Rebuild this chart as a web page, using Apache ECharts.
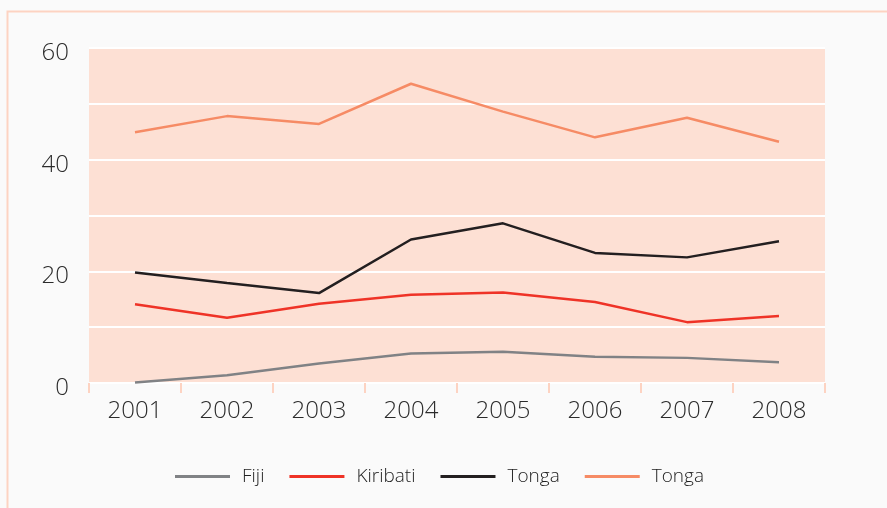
<!DOCTYPE html>
<html><head><meta charset="utf-8">
<script src="https://cdn.jsdelivr.net/npm/echarts@6/dist/echarts.min.js"></script>
<style>html,body{margin:0;padding:0;background:#fafafa;}#c{width:887px;height:508px;}</style>
</head><body><div id="c"></div>
<script>
const years = ['2001','2002','2003','2004','2005','2006','2007','2008'];
const seriesNames = ['Fiji','Kiribati','Tonga','Tonga '];
const fiji = [0.1, 1.4, 3.5, 5.3, 5.6, 4.7, 4.5, 3.7];
const kiribati = [14.1, 11.7, 14.2, 15.8, 16.2, 14.5, 10.9, 12.0];
const tongaDark = [19.8, 17.9, 16.1, 25.7, 28.6, 23.3, 22.5, 25.4];
const tongaLight = [44.9, 47.8, 46.4, 53.6, 48.6, 44.0, 47.5, 43.2];
const colors = ['#808285', '#ef3327', '#231f20', '#f68b65'];
const values = [fiji, kiribati, tongaDark, tongaLight];

const chart = echarts.init(document.getElementById('c'), null, {renderer:'canvas'});
const font = '"Open Sans", "Noto Sans", sans-serif';
chart.setOption({
  backgroundColor: '#fafafa',
  animation: false,
  textStyle: {fontFamily: font},
  graphic: [{
    type: 'rect', left: 5, top: 9, z: -1,
    shape: {width: 900, height: 520},
    style: {fill: 'none', stroke: '#fdd3c2', lineWidth: 2}
  }],
  grid: {left: 89, right: 62, top: 48, bottom: 125, show: true,
    backgroundColor: '#fde0d4', borderWidth: 0},
  legend: {
    top: 462, left: 170, itemWidth: 55, itemHeight: 3, itemGap: 25,
    icon: 'rect',
    textStyle: {fontSize: 19, color: '#222', fontFamily: font, fontWeight: 300, padding: [0, 0, 0, 7]},
    data: seriesNames.map((n, i) => ({name: n, itemStyle: {color: colors[i]}}))
  },
  xAxis: {
    type: 'category', data: years, boundaryGap: true,
    axisLine: {show: false},
    axisTick: {show: true, length: 10, lineStyle: {color: '#fdd3c2', width: 2}},
    axisLabel: {fontSize: 24, color: '#2b2b2b', margin: 16, fontFamily: font, fontWeight: 300}
  },
  yAxis: {
    type: 'value', min: 0, max: 60, interval: 10,
    axisLine: {show: false}, axisTick: {show: false},
    splitLine: {show: true, lineStyle: {color: '#ffffff', width: 2}},
    axisLabel: {margin: 20,
      formatter: v => (v % 20 === 0 ? '{a|' + v + '}' : ''),
      rich: {a: {fontSize: 24, color: '#2b2b2b', fontFamily: font, fontWeight: 300, padding: [10, 0, 0, 0]}}}
  },
  series: values.map((d, i) => ({
    name: seriesNames[i], type: 'line', data: d,
    symbol: 'none', lineStyle: {color: colors[i], width: 2.5},
    itemStyle: {color: colors[i]}
  }))
});
</script></body></html>
